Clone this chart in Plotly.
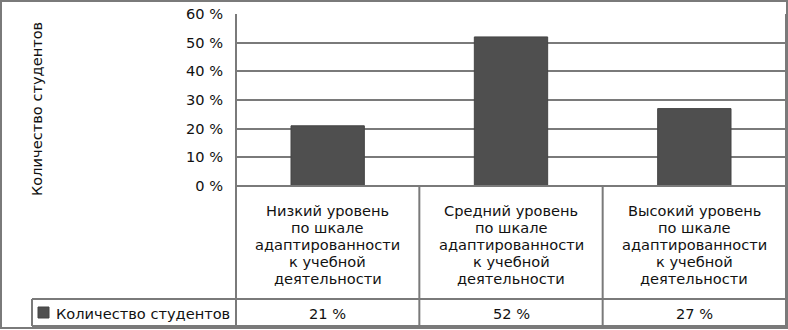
import textwrap
import plotly.graph_objects as go

categories = [
    "Низкий уровень по шкале адаптированности к учебной деятельности",
    "Средний уровень по шкале адаптированности к учебной деятельности",
    "Высокий уровень по шкале адаптированности к учебной деятельности",
]
values = [21, 52, 27]
series_name = "Количество студентов"
y_title = "Количество студентов"
tick_values = [0, 10, 20, 30, 40, 50, 60]
tick_labels = [f"{v} %" for v in tick_values]

W, H = 788, 330
FONT = "DejaVu Sans"
FS = 14.6
TXT = "#111111"
LINE = "#7a7a7a"
BAR = "#4f4f4f"

def px(x):
    return x / W

def py(y):
    return 1 - y / H

plot_l, plot_r, plot_t, plot_b = 236, 786, 14, 186
row_y, bot_y, leg_l = 299, 326, 32

fig = go.Figure()
fig.add_trace(go.Bar(
    x=categories, y=values, name=series_name,
    marker=dict(color=BAR, line=dict(color="#454545", width=1)),
    showlegend=False, hoverinfo="skip",
))

fig.update_layout(
    template="none",
    width=W, height=H, margin=dict(l=0, r=0, t=0, b=0, pad=0),
    autosize=False, showlegend=False,
    paper_bgcolor="white", plot_bgcolor="white",
    bargap=0.6,
    font=dict(family=FONT, size=FS, color=TXT),
    xaxis=dict(domain=[px(plot_l), px(plot_r)], showticklabels=False,
               showgrid=False, zeroline=False, showline=False, ticks="",
               automargin=False),
    yaxis=dict(domain=[py(plot_b), py(plot_t)], range=[0, 60],
               tickvals=tick_values, ticktext=tick_labels,
               showgrid=True, gridcolor=LINE, gridwidth=2,
               zeroline=False, showline=False, ticks="",
               ticklabelstandoff=12, automargin=False,
               tickfont=dict(family=FONT, size=FS, color=TXT)),
)

shapes = []
def hline(x0, x1, y, w=2):
    shapes.append(dict(type="line", xref="paper", yref="paper",
                       x0=px(x0), x1=px(x1), y0=py(y), y1=py(y),
                       line=dict(color=LINE, width=w)))
def vline(x, y0, y1, w=2):
    shapes.append(dict(type="line", xref="paper", yref="paper",
                       x0=px(x), x1=px(x), y0=py(y0), y1=py(y1),
                       line=dict(color=LINE, width=w)))

# outer border
shapes.append(dict(type="rect", xref="paper", yref="paper",
                   x0=px(1), x1=px(787), y0=py(328), y1=py(1),
                   line=dict(color=LINE, width=2)))
# plot frame left and right
vline(plot_l, plot_t, bot_y)
vline(plot_r, plot_t, bot_y)
# table
hline(plot_l, plot_r, plot_b)
hline(leg_l, plot_r, row_y)
hline(leg_l, plot_r, bot_y)
vline(leg_l, row_y, bot_y)
n = len(categories)
cw = (plot_r - plot_l) / n
for i in range(1, n):
    vline(plot_l + cw * i, plot_b, bot_y)

# legend marker
shapes.append(dict(type="rect", xref="paper", yref="paper",
                   x0=px(38), x1=px(49), y0=py(318), y1=py(307),
                   fillcolor=BAR, line=dict(color="#454545", width=1)))
fig.update_layout(shapes=shapes)

ann = []
# y-axis title
ann.append(dict(text=y_title, xref="paper", yref="paper",
                x=px(36), y=py(109), textangle=-90, showarrow=False,
                xanchor="center", yanchor="middle",
                font=dict(family=FONT, size=FS, color=TXT)))
# category labels in table
for i, cat in enumerate(categories):
    lines = textwrap.wrap(cat, 16)
    for j, ln in enumerate(lines):
        ann.append(dict(text=ln, xref="x", yref="paper", x=cat,
                        y=py(210 + 17.2 * j), showarrow=False,
                        xanchor="center", yanchor="middle",
                        font=dict(family=FONT, size=FS, color=TXT)))
    ann.append(dict(text=f"{values[i]} %", xref="x", yref="paper", x=cat,
                    y=py(313), showarrow=False, xanchor="center",
                    yanchor="middle",
                    font=dict(family=FONT, size=FS, color=TXT)))
# legend label
ann.append(dict(text=series_name, xref="paper", yref="paper",
                x=px(54), y=py(313), showarrow=False, xanchor="left",
                yanchor="middle",
                font=dict(family=FONT, size=FS, color=TXT)))
fig.update_layout(annotations=ann)

fig.write_html(
    "out.html",
    config={"displayModeBar": False, "staticPlot": True},
    post_script="document.body.style.margin='0';document.body.style.overflow='hidden';",
)
